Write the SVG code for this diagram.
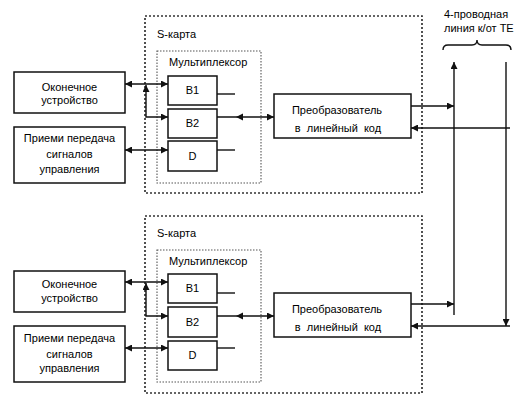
<svg xmlns="http://www.w3.org/2000/svg" width="528" height="401" viewBox="0 0 528 401">
<style>
text{font-family:"Liberation Sans",Arial,sans-serif;font-size:11px;fill:#000}
.c{text-anchor:middle}
.box{fill:#fff;stroke:#111;stroke-width:1.5}
.card{fill:none;stroke:#333;stroke-width:1.7;stroke-dasharray:2 2}
.mux{fill:none;stroke:#555;stroke-width:1.1;stroke-dasharray:1.5 1.5}
.ln{fill:none;stroke:#111;stroke-width:1.4}
.a{marker-end:url(#ah)}
.aa{marker-start:url(#ah);marker-end:url(#ah)}
.ah{fill:#111}
</style>
<defs>
<marker id="ah" viewBox="0 0 10 10" refX="10" refY="5" markerWidth="7" markerHeight="7" markerUnits="userSpaceOnUse" orient="auto-start-reverse">
<path d="M0,0 L10,5 L0,10 Z" fill="#111"/>
</marker>
</defs>

<g id="card1">
<rect class="card" x="145" y="16" width="277" height="177"/>
<text x="157" y="38">S-карта</text>
</g>
<g id="mux1">
<rect class="mux" x="157" y="51" width="104" height="132"/>
<text x="169" y="66">Мультиплексор</text>
</g>
<g id="term1">
<rect class="box" x="14" y="72" width="111" height="41"/>
<text class="c" x="69.5" y="91">Оконечное</text>
<text class="c" x="69.5" y="104">устройство</text>
</g>
<g id="sig1">
<rect class="box" x="14" y="127" width="111" height="56"/>
<text class="c" x="69.5" y="142">Приеми передача</text>
<text class="c" x="69.5" y="158">сигналов</text>
<text class="c" x="69.5" y="173">управления</text>
</g>
<g id="b1_1"><rect class="box" x="168" y="76" width="49" height="29"/><text class="c" x="192.5" y="94">B1</text></g>
<g id="b2_1"><rect class="box" x="168" y="109" width="49" height="29"/><text class="c" x="192.5" y="127">B2</text></g>
<g id="d_1"><rect class="box" x="168" y="141" width="49" height="30"/><text class="c" x="192.5" y="160">D</text></g>
<g id="conv1">
<rect class="box" x="274" y="94" width="137" height="44"/>
<text class="c" x="337" y="114">Преобразователь</text>
<text class="c" x="338" y="132" xml:space="preserve">в  линейный  код</text>
</g>

<g id="card2">
<rect class="card" x="145" y="216" width="277" height="177"/>
<text x="157" y="237">S-карта</text>
</g>
<g id="mux2">
<rect class="mux" x="157" y="250" width="104" height="132"/>
<text x="169" y="265">Мультиплексор</text>
</g>
<g id="term2">
<rect class="box" x="14" y="271" width="111" height="41"/>
<text class="c" x="69.5" y="288">Оконечное</text>
<text class="c" x="69.5" y="302">устройство</text>
</g>
<g id="sig2">
<rect class="box" x="14" y="326" width="111" height="56"/>
<text class="c" x="69.5" y="342">Приеми передача</text>
<text class="c" x="69.5" y="358">сигналов</text>
<text class="c" x="69.5" y="372">управления</text>
</g>
<g id="b1_2"><rect class="box" x="168" y="274" width="49" height="29"/><text class="c" x="192.5" y="292">B1</text></g>
<g id="b2_2"><rect class="box" x="168" y="307" width="49" height="30"/><text class="c" x="192.5" y="326">B2</text></g>
<g id="d_2"><rect class="box" x="168" y="341" width="49" height="29"/><text class="c" x="192.5" y="359">D</text></g>
<g id="conv2">
<rect class="box" x="274" y="293" width="137" height="44"/>
<text class="c" x="337" y="313">Преобразователь</text>
<text class="c" x="338" y="331" xml:space="preserve">в  линейный  код</text>
</g>

<g id="line-label">
<text x="444" y="18">4-проводная</text>
<text x="444" y="32">линия к/от ТЕ</text>
<path class="ln" d="M443,50 Q443,45 448,45 H472 Q477,45 477,40 Q477,45 482,45 H506 Q511,45 511,50" stroke-width="1.2"/>
</g>

<g id="connectors">
<line class="ln aa" x1="125" y1="84" x2="168" y2="84"/>
<path class="ln aa" d="M146,85 V117 H168"/>
<line class="ln aa" x1="125" y1="150" x2="168" y2="150"/>
<line class="ln" x1="217" y1="94" x2="235" y2="94"/>
<line class="ln" x1="217" y1="150" x2="235" y2="150"/>
<line class="ln a" x1="217" y1="117" x2="274" y2="117"/>
<polygon class="ah" points="236,117 243,113.5 243,120.5"/>
<line class="ln a" x1="411" y1="106" x2="454" y2="106"/>
<line class="ln a" x1="510" y1="128" x2="411" y2="128"/>

<line class="ln aa" x1="125" y1="282" x2="168" y2="282"/>
<path class="ln aa" d="M146,283 V316 H168"/>
<line class="ln aa" x1="125" y1="348" x2="168" y2="348"/>
<line class="ln" x1="217" y1="293" x2="235" y2="293"/>
<line class="ln" x1="217" y1="348" x2="235" y2="348"/>
<line class="ln a" x1="217" y1="316" x2="274" y2="316"/>
<polygon class="ah" points="236,316 243,312.5 243,319.5"/>
<line class="ln a" x1="411" y1="304" x2="454" y2="304"/>
<line class="ln a" x1="510" y1="326" x2="411" y2="326"/>

<line class="ln a" x1="454" y1="315" x2="454" y2="62"/>
<line class="ln a" x1="506" y1="62" x2="506" y2="326"/>
</g>
</svg>
